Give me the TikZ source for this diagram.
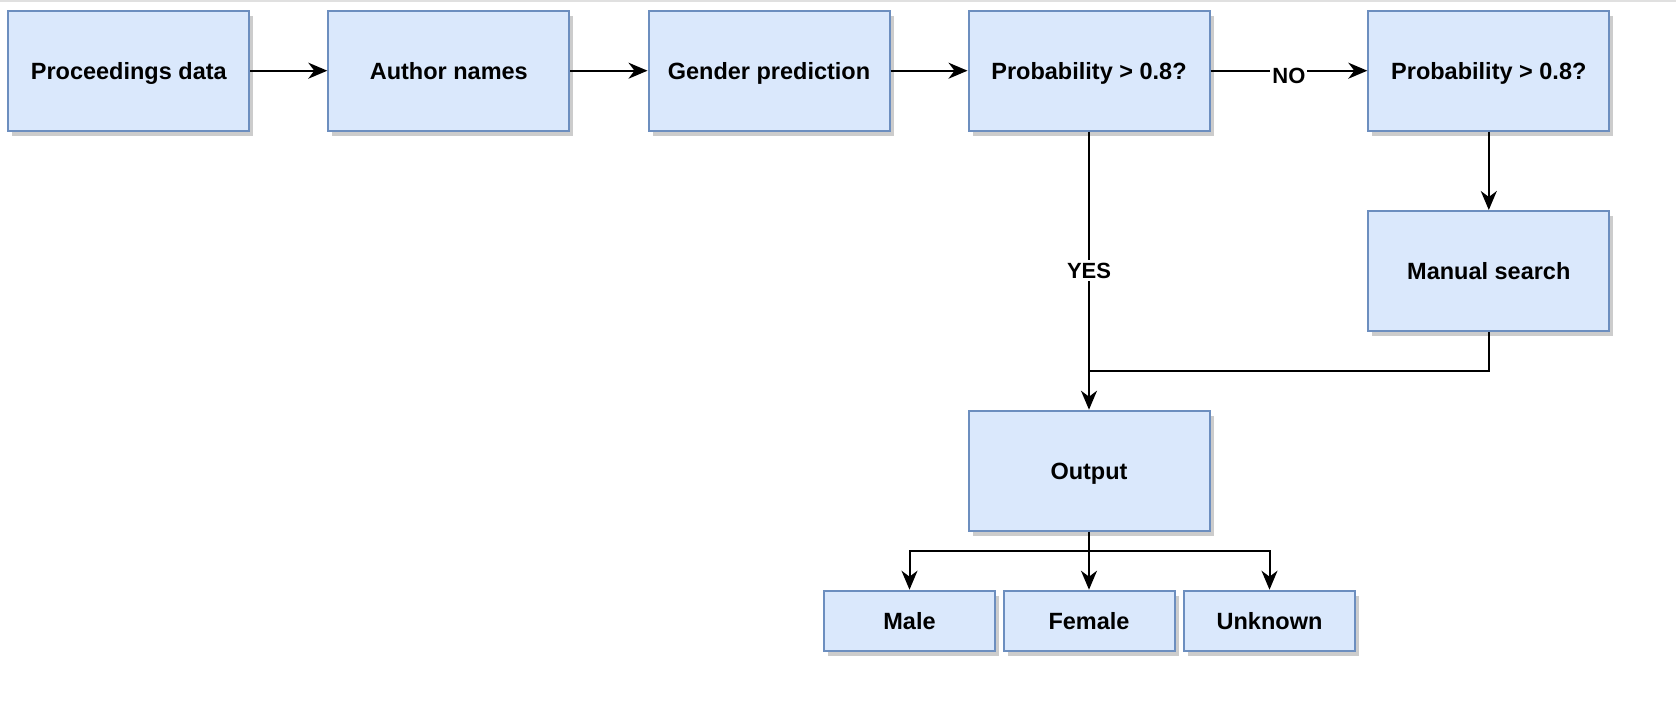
\documentclass[tikz,border=0pt]{standalone}
\usepackage{fontspec}
\setmainfont{Liberation Sans}
\usetikzlibrary{arrows.meta,shadows}
\definecolor{boxfill}{HTML}{DAE8FC}
\definecolor{boxline}{HTML}{6C8EBF}
\begin{document}
\begin{tikzpicture}[x=0.5pt,y=-0.5pt,
  box/.style={draw=boxline, fill=boxfill, line width=1pt, minimum width=120.5pt, minimum height=60pt,
    inner sep=0pt, text height=9.4pt, text depth=1pt, font=\bfseries\fontsize{11.75pt}{14pt}\selectfont,
    drop shadow={shadow xshift=2pt, shadow yshift=-2.5pt, opacity=0.2, fill=black}},
  leaf/.style={box, minimum width=85.5pt, minimum height=30pt},
  arr/.style={line width=1pt, -{Stealth[length=9.5pt,width=8pt,inset=3pt]}},
  conn/.style={line width=1pt},
  lbl/.style={fill=white, inner sep=1pt, text height=8pt, text depth=0.5pt, font=\bfseries\fontsize{11pt}{13pt}\selectfont}]
\useasboundingbox (0,0) rectangle (1676,706);
\fill[black!12] (0,0) rectangle (1676,2);
\node[box] (p1) at (128.8,70.7) {Proceedings data};
\node[box] (p2) at (448.8,70.7) {Author names};
\node[box] (p3) at (769,70.7) {Gender prediction};
\node[box] (p4) at (1089,70.7) {Probability > 0.8?};
\node[box] (p5) at (1488.8,70.7) {Probability > 0.8?};
\node[box] (ms) at (1488.8,271) {Manual search};
\node[box] (out) at (1089,470.7) {Output};
\node[leaf] (male) at (909.5,620.7) {Male};
\node[leaf] (female) at (1089,620.7) {Female};
\node[leaf] (unk) at (1269.5,620.7) {Unknown};
\coordinate (j) at (1089,371);
\coordinate (split) at (1089,550.5);
\draw[arr] (p1) -- (p2);
\draw[arr] (p2) -- (p3);
\draw[arr] (p3) -- (p4);
\draw[arr] (p4) -- node[lbl, yshift=-2.5pt]{NO} (p5);
\draw[arr] (p5) -- (ms);
\draw[arr] (p4.south) -- node[lbl]{YES} (out.north);
\draw[conn] (ms.south) |- (j);
\draw[arr] (split) -| (male.north);
\draw[arr] (split) -| (unk.north);
\draw[arr] (out.south) -- (female.north);
\end{tikzpicture}
\end{document}
